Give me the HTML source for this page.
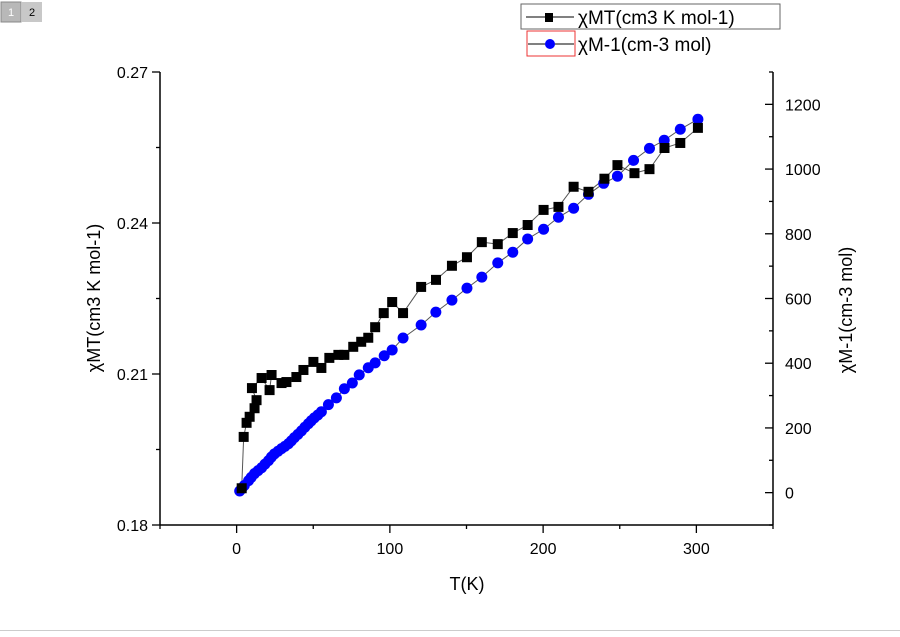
<!DOCTYPE html>
<html><head><meta charset="utf-8"><style>
body{margin:0;background:#fff;width:900px;height:632px;overflow:hidden;font-family:"Liberation Sans",sans-serif}
</style></head><body>
<svg id="chart" width="900" height="632" xmlns="http://www.w3.org/2000/svg">
<rect x="0" y="0" width="900" height="632" fill="#fff"/>
<line x1="0" y1="630.5" x2="900" y2="630.5" stroke="#ccc"/>
<g><rect x="1" y="2" width="20" height="20" fill="#b8b8b8" stroke="#888"/><text x="11" y="16" font-size="11" text-anchor="middle" fill="#fff">1</text></g>
<g><rect x="22" y="2" width="20" height="20" fill="#c8c8c8"/><text x="32" y="16" font-size="11" text-anchor="middle" fill="#000">2</text></g>
<g id="axes"></g>
<g id="marks"></g>
<g>
<rect x="521" y="4" width="259" height="25" fill="#fff" stroke="#666"/>
<line x1="526" y1="17" x2="574" y2="17" stroke="#000"/><rect x="545" y="13" width="8" height="9" fill="#000"/>
<text x="578" y="24" font-size="19">χMT(cm3 K mol-1)</text>
<rect x="527" y="31" width="48" height="25" fill="none" stroke="#e33"/>
<line x1="528" y1="44" x2="574" y2="44" stroke="#000"/><circle cx="550" cy="44" r="5" fill="#00f"/>
<text x="578" y="51" font-size="19">χM-1(cm-3 mol)</text>
</g>
</svg>
<script>
const chiT_T=[3.3,4.6,6.5,8.5,11.7,13,10,16.3,21.5,22.8,29.3,32.5,39,43.6,50.1,55.3,60.5,66.4,70.3,76.1,81.3,85.9,90.4,96,101.5,108.6,120.4,130.1,140.5,150.3,160,170.4,180.2,189.9,200.3,210,219.9,229.6,240,248.5,259.6,269.4,279.2,289.5,301];
const chiT_V=[0.1873,0.1975,0.2003,0.2015,0.2032,0.2048,0.2072,0.2092,0.2068,0.2098,0.2082,0.2084,0.2094,0.2108,0.2124,0.2112,0.2132,0.2138,0.2138,0.2154,0.2164,0.2172,0.2193,0.2221,0.2243,0.2221,0.2273,0.2287,0.2315,0.2332,0.2362,0.2358,0.238,0.2396,0.2426,0.2432,0.2472,0.2462,0.2488,0.2515,0.2499,0.2507,0.2549,0.2559,0.2589];
const inv_T=[2,3.3,5,7.8,9.5,11.7,14,16.3,18.5,20.8,22.7,24.7,27,29.3,31.5,33.8,35.7,37.7,40,42.3,44.5,46.8,48.7,50.7,53,55.3,59.9,65.1,70.3,75.5,80,85.9,90.4,96.3,101.5,108.6,120.4,130,140.5,150.3,160,170.4,180.2,189.9,200.3,210,219.9,229.6,239.5,248.5,259,269.4,279,289.5,301];
const inv_V=[5,12,22,37,47,59,68,77,88,99,110,120,128,136,143,151,160,170,180,191,202,213,222,231,240,250,272,293,321,339,364,386,401,423,441,478,518,558,595,632,666,710,743,784,814,851,879,922,956,978,1027,1064,1089,1123,1154];
const xTicks=[0,100,200,300], yLTicks=[0.18,0.21,0.24,0.27], yRTicks=[0,200,400,600,800,1000,1200];
const NS="http://www.w3.org/2000/svg";
const X0=160,X1=773,YT=72,YB=525;
const xs=t=>X0+(t+50)/400*(X1-X0);
const yl=v=>YB-(v-0.18)/0.09*(YB-YT);
const yr=v=>YB-(v+100)/1400*(YB-YT);
function mk(tag,attrs,parent){const e=document.createElementNS(NS,tag);for(const k in attrs)e.setAttribute(k,attrs[k]);parent.appendChild(e);return e;}
const ax=document.getElementById('axes'), mg=document.getElementById('marks');
let a=mk('line',{x1:X0,y1:YB,x2:X1,y2:YB,stroke:'#000','stroke-width':1.5},ax);


a=mk('line',{x1:X0,y1:YT,x2:X0,y2:YB,stroke:'#000','stroke-width':1.5},ax);


a=mk('line',{x1:X1,y1:YT,x2:X1,y2:YB,stroke:'#000','stroke-width':1.5},ax);


for(let t=-50;t<=350;t+=50){const maj=xTicks.includes(t);mk('line',{x1:xs(t),y1:YB,x2:xs(t),y2:YB+(maj?8:4),stroke:'#000','stroke-width':1.3},ax);}
xTicks.forEach(t=>{const e=mk('text',{x:xs(t),y:YB+29,'font-size':16,'text-anchor':'middle'},ax);e.textContent=t;

});
for(let i=0;i<7;i++){const v=0.18+i*0.015;const maj=i%2==0;mk('line',{x1:X0,y1:yl(v),x2:X0-(maj?8:4),y2:yl(v),stroke:'#000','stroke-width':1.3},ax);}
yLTicks.forEach(v=>{const e=mk('text',{x:X0-12,y:yl(v)+6,'font-size':16,'text-anchor':'end'},ax);e.textContent=v.toFixed(2);

});
for(let v=-100;v<=1300;v+=100){const maj=v%200==0;mk('line',{x1:X1,y1:yr(v),x2:X1-(maj?8:4),y2:yr(v),stroke:'#000','stroke-width':1.3},ax);}
yRTicks.forEach(v=>{const e=mk('text',{x:X1+12,y:yr(v)+6,'font-size':16},ax);e.textContent=v;

});
let t=mk('text',{x:467,y:590,'font-size':18,'text-anchor':'middle'},ax);t.textContent='T(K)';


t=mk('text',{x:100,y:298,'font-size':18,'text-anchor':'middle',transform:'rotate(-90 100 298)'},ax);t.textContent='χMT(cm3 K mol-1)';


t=mk('text',{x:852,y:310,'font-size':18,'text-anchor':'middle',transform:'rotate(-90 852 310)'},ax);t.textContent='χM-1(cm-3 mol)';


let l=mk('polyline',{points:chiT_T.map((x,i)=>xs(x)+','+yl(chiT_V[i])).join(' '),fill:'none',stroke:'#555','stroke-width':1},mg);


l=mk('polyline',{points:inv_T.map((x,i)=>xs(x)+','+yr(inv_V[i])).join(' '),fill:'none',stroke:'#555','stroke-width':1},mg);


inv_T.forEach((x,i)=>{const c=mk('circle',{cx:xs(x),cy:yr(inv_V[i]),r:5.5,fill:'#00f'},mg);

});
chiT_T.forEach((x,i)=>{const r=mk('rect',{x:xs(x)-5,y:yl(chiT_V[i])-5,width:10,height:10,fill:'#000'},mg);

});
</script>
</body></html>
